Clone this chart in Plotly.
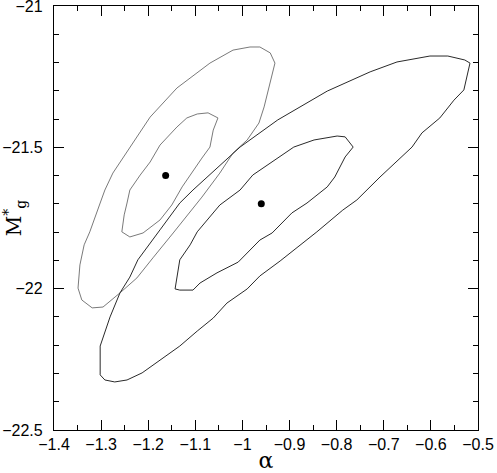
import plotly.graph_objects as go

# best-fit points (alpha, M*_g)
best_alpha = [-1.163, -0.96]
best_mag = [-21.60, -21.70]

# grey contours (first sample)
grey_outer_alpha = [-1.349, -1.345, -1.336, -1.324, -1.302, -1.292, -1.275, -1.239, -1.196, -1.139,
                    -1.069, -1.020, -0.984, -0.963, -0.941, -0.931, -0.937, -0.946, -0.954, -0.965,
                    -0.990, -1.020, -1.048, -1.086, -1.111, -1.147, -1.190, -1.224, -1.260, -1.296,
                    -1.319, -1.341, -1.349]
grey_outer_mag = [-21.998, -21.916, -21.845, -21.799, -21.697, -21.651, -21.591, -21.499, -21.393, -21.290,
                  -21.202, -21.156, -21.145, -21.145, -21.166, -21.202, -21.244, -21.297, -21.357, -21.414,
                  -21.474, -21.520, -21.591, -21.676, -21.729, -21.803, -21.891, -21.962, -22.015, -22.065,
                  -22.068, -22.040, -21.998]

grey_inner_alpha = [-1.256, -1.251, -1.245, -1.239, -1.217, -1.196, -1.175, -1.139, -1.118, -1.096,
                    -1.073, -1.052, -1.062, -1.069, -1.086, -1.107, -1.128, -1.150, -1.175, -1.211,
                    -1.239, -1.256]
grey_inner_mag = [-21.799, -21.739, -21.697, -21.651, -21.598, -21.552, -21.492, -21.428, -21.396, -21.382,
                  -21.378, -21.396, -21.439, -21.499, -21.538, -21.587, -21.640, -21.704, -21.757, -21.803,
                  -21.817, -21.799]

# black contours (second sample)
black_outer_alpha = [-1.302, -1.302, -1.281, -1.260, -1.239, -1.222, -1.175, -1.133, -1.105, -1.065,
                     -1.020, -1.005, -0.925, -0.820, -0.729, -0.672, -0.602, -0.564, -0.528, -0.517,
                     -0.530, -0.551, -0.581, -0.619, -0.640, -0.687, -0.708, -0.757, -0.787, -0.842,
                     -0.920, -0.963, -0.990, -1.033, -1.062, -1.096, -1.133, -1.213, -1.245, -1.271,
                     -1.292, -1.302]
black_outer_mag = [-22.305, -22.203, -22.100, -22.015, -21.959, -21.898, -21.792, -21.697, -21.651, -21.591,
                   -21.520, -21.499, -21.403, -21.301, -21.233, -21.198, -21.177, -21.177, -21.191, -21.202,
                   -21.297, -21.333, -21.396, -21.449, -21.499, -21.570, -21.605, -21.686, -21.722, -21.799,
                   -21.902, -21.955, -22.001, -22.051, -22.104, -22.150, -22.203, -22.298, -22.323, -22.330,
                   -22.323, -22.305]

black_inner_alpha = [-1.143, -1.133, -1.111, -1.096, -1.048, -1.005, -0.978, -0.954, -0.891, -0.848,
                     -0.799, -0.782, -0.765, -0.782, -0.795, -0.804, -0.820, -0.863, -0.895, -0.937,
                     -0.963, -1.009, -1.054, -1.090, -1.105, -1.133, -1.143]
black_inner_mag = [-22.001, -21.898, -21.845, -21.799, -21.704, -21.651, -21.598, -21.570, -21.499, -21.474,
                   -21.460, -21.463, -21.499, -21.534, -21.573, -21.605, -21.640, -21.697, -21.732, -21.803,
                   -21.828, -21.906, -21.944, -21.980, -22.005, -22.005, -22.001]

x_ticks = [-1.4, -1.3, -1.2, -1.1, -1.0, -0.9, -0.8, -0.7, -0.6, -0.5]
x_labels = ["−1.4", "−1.3", "−1.2", "−1.1", "−1", "−0.9", "−0.8", "−0.7", "−0.6", "−0.5"]
y_ticks = [-22.5, -22.0, -21.5, -21.0]
y_labels = ["−22.5", "−22", "−21.5", "−21"]

fig = go.Figure()

for xs, ys, col in [
    (grey_outer_alpha, grey_outer_mag, "#7a7a7a"),
    (grey_inner_alpha, grey_inner_mag, "#7a7a7a"),
    (black_outer_alpha, black_outer_mag, "#2a2a2a"),
    (black_inner_alpha, black_inner_mag, "#2a2a2a"),
]:
    fig.add_trace(go.Scatter(x=xs, y=ys, mode="lines", line=dict(color=col, width=1)))

fig.add_trace(
    go.Scatter(
        x=best_alpha,
        y=best_mag,
        mode="markers",
        marker=dict(color="black", size=7),
    )
)

axis_style = dict(
    showgrid=False,
    zeroline=False,
    showline=True,
    linecolor="black",
    linewidth=1.3,
    mirror="allticks",
    ticks="inside",
    ticklen=10,
    tickwidth=1,
    tickcolor="black",
    automargin=False,
    ticklabeloverflow="allow",
    tickfont=dict(family="Liberation Sans", size=16, color="black"),
)

fig.update_xaxes(
    range=[-1.4, -0.5],
    tickmode="array",
    tickvals=x_ticks,
    ticktext=x_labels,
    minor=dict(ticks="inside", ticklen=5, dtick=0.05, tick0=-1.4, tickcolor="black", showgrid=False),
    title=dict(text="α", font=dict(family="DejaVu Serif", size=22, color="black"), standoff=2),
    **axis_style,
)
fig.update_yaxes(
    range=[-22.5, -21],
    tickmode="array",
    tickvals=y_ticks,
    ticktext=y_labels,
    ticklabelstandoff=7,
    minor=dict(ticks="inside", ticklen=5, dtick=0.1, tick0=-21, tickcolor="black", showgrid=False),
    title=dict(text="M<sup>*</sup><sub>g</sub>", font=dict(family="DejaVu Serif", size=20, color="black"), standoff=4),
    **axis_style,
)

fig.update_layout(
    width=497,
    height=473,
    margin=dict(l=54, r=19, t=6, b=43),
    paper_bgcolor="white",
    plot_bgcolor="white",
    showlegend=False,
)

# drop the browser's default page margin so the figure sits at the window corner
fig.write_html(
    "out.html",
    config={"displayModeBar": False},
    post_script="document.body.style.margin='0';",
)
